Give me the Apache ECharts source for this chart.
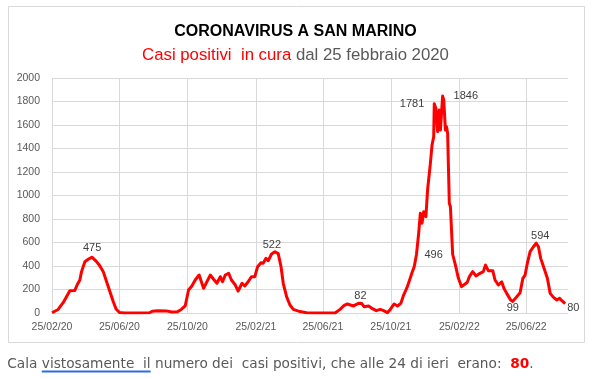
<!DOCTYPE html>
<html>
<head>
<meta charset="utf-8">
<script src="https://cdn.jsdelivr.net/npm/echarts@6/dist/echarts.min.js"></script>
<style>
  html, body { margin: 0; padding: 0; background: #fff; }
  #chart { width: 591px; height: 378px; }
</style>
</head>
<body>
<div id="chart"></div>
<script>
// dati: giorni dal 25/02/2020 e casi positivi in cura
var dayOffsets = [0, 3, 11, 20, 26, 32, 41, 45, 50, 53, 59, 65, 72, 80, 86, 92, 98, 104, 110, 115, 121, 130,
  175, 180, 190, 205, 215, 225, 232, 239, 245, 251, 257, 264, 272, 278, 284, 290, 296, 302, 306, 311, 317,
  322, 329, 334, 341, 346, 352, 358, 364, 369, 375, 379, 384, 388, 394, 400, 406, 411, 415, 421, 427, 433,
  445, 457, 466, 508, 517, 523, 530, 541, 550, 556, 560, 568, 574, 582, 589, 595, 602, 607, 614, 620, 626,
  631, 637, 641, 646, 650, 654, 658, 661, 664, 667, 671, 674, 679, 682, 685, 686, 689, 692, 695, 697, 701,
  703, 706, 708, 710, 713, 715, 719, 724, 729, 735, 738, 745, 749, 755, 761, 768, 774, 778, 783, 791, 795,
  801, 807, 811, 816, 823, 827, 833, 840, 845, 849, 853, 858, 864, 869, 873, 877, 883, 889, 894, 900, 906,
  911, 915, 921];
var positivi = [2, 10, 30, 88, 139, 190, 192, 238, 281, 352, 437, 457, 475, 437, 400, 352, 266, 181, 96, 34, 4, 0,
  2, 15, 20, 18, 8, 10, 30, 60, 196, 230, 281, 323, 210, 266, 323, 287, 253, 309, 266, 323, 338,
  281, 238, 187, 253, 230, 266, 309, 309, 394, 428, 423, 466, 445, 502, 522, 505, 394, 253, 139, 68, 31,
  12, 3, 0, 0, 31, 60, 77, 60, 82, 80, 54, 60, 40, 20, 31, 20, 3, 30, 77, 60, 82,
  153, 215, 270, 343, 394, 496, 678, 848, 763, 862, 820, 1047, 1274, 1430, 1501, 1781, 1740, 1543, 1728, 1557, 1846,
  1813, 1557, 1586, 1529, 934, 905, 500, 408, 300, 224, 210, 260, 309, 352, 315, 338, 352, 408, 360, 360, 281,
  238, 266, 210, 167, 111, 99, 133, 173, 295, 323, 423, 522, 564, 594, 564, 465, 380, 295, 167, 133, 111,
  125, 105, 80];
// etichette dei valori
var labelDays = [72, 400, 550, 654, 686, 701, 827, 869, 921];
var yTicks = [0, 2000, 200];
var nDays = 927;

// posizione delle etichette
var labelPos = {
  72:  { position: 'top', distance: 4 },
  400: { position: 'top', distance: 1, offset: [-3, 0] },
  550: { position: 'top', distance: 2, offset: [2, 0] },
  654: { position: 'right', distance: 8 },
  686: { position: 'left', distance: 10 },
  701: { position: 'right', distance: 11 },
  827: { position: 'bottom', distance: 1 },
  869: { position: 'top', distance: 2, offset: [4, 0] },
  921: { position: 'right', distance: 2, offset: [0, 4] }
};

function pad(n) { return (n < 10 ? '0' : '') + n; }
var start = Date.UTC(2020, 1, 25);
var categories = [];
for (var i = 0; i < nDays; i++) {
  var d = new Date(start + i * 86400000);
  categories.push(pad(d.getUTCDate()) + '/' + pad(d.getUTCMonth() + 1) + '/' + String(d.getUTCFullYear()).slice(2));
}
function isTick(index, value) {
  var m = value.slice(3, 5);
  return value.slice(0, 2) === '25' && (m === '02' || m === '06' || m === '10');
}

var seriesData = [];
for (var i = 0; i < nDays; i++) seriesData.push(null);
for (var k = 0; k < dayOffsets.length; k++) {
  var day = dayOffsets[k];
  if (labelDays.indexOf(day) >= 0) {
    var p = labelPos[day];
    seriesData[day] = {
      value: positivi[k],
      label: {
        show: true,
        position: p.position,
        distance: p.distance,
        offset: p.offset || [0, 0]
      }
    };
  } else {
    seriesData[day] = positivi[k];
  }
}

var font = 'Liberation Sans';
var chart = echarts.init(document.getElementById('chart'));

// misura del testo per la sottolineatura
var ctx = document.createElement('canvas').getContext('2d');
ctx.font = '13.7px "DejaVu Sans"';
var noteX = 7.3;
var uStart = noteX + ctx.measureText('Cala ').width;
var uEnd = noteX + ctx.measureText('Cala vistosamente  il').width;

chart.setOption({
  animation: false,
  title: [{
    text: 'CORONAVIRUS A SAN MARINO',
    left: 'center',
    top: 19,
    textStyle: { fontFamily: font, fontWeight: 'bold', fontSize: 16, color: '#000' }
  }, {
    text: '{r|Casi positivi  in cura}{g| dal 25 febbraio 2020}',
    left: 'center',
    top: 42,
    textStyle: {
      fontWeight: 'normal',
      rich: {
        r: { fontFamily: font, fontWeight: 'normal', fontSize: 16.8, color: '#ff0000' },
        g: { fontFamily: font, fontWeight: 'normal', fontSize: 16.8, color: '#595959' }
      }
    }
  }],
  grid: { left: 52, right: 23, top: 78, bottom: 65 },
  xAxis: {
    type: 'category',
    data: categories,
    boundaryGap: false,
    axisLine: { lineStyle: { color: '#d9d9d9' } },
    axisTick: { show: false },
    axisLabel: {
      interval: isTick,
      color: '#595959',
      fontFamily: font,
      fontSize: 10.5,
      margin: 9
    },
    splitLine: { show: true, interval: isTick, lineStyle: { color: '#d9d9d9' } }
  },
  yAxis: {
    type: 'value',
    min: yTicks[0],
    max: yTicks[1],
    interval: yTicks[2],
    axisLine: { show: false },
    axisTick: { show: false },
    axisLabel: {
      color: '#595959', fontFamily: font, fontSize: 10.5, margin: 12,
      formatter: function (v) { return String(v); }
    },
    splitLine: { lineStyle: { color: '#d9d9d9' } }
  },
  series: [{
    type: 'line',
    data: seriesData,
    connectNulls: true,
    symbol: 'circle',
    symbolSize: 0,
    showAllSymbol: true,
    lineStyle: { color: '#ff0000', width: 3, join: 'round' },
    itemStyle: { color: '#ff0000' },
    label: { color: '#404040', fontFamily: font, fontSize: 11 }
  }],
  graphic: [{
    type: 'rect',
    shape: { x: 8.5, y: 6.5, width: 576, height: 336 },
    style: { fill: 'none', stroke: '#d9d9d9', lineWidth: 1 },
    silent: true
  }, {
    type: 'text',
    x: noteX,
    y: 364,
    style: {
      text: '{g|Cala vistosamente  il numero dei  casi positivi, che alle 24 di ieri  erano:  }{r|80}{g|.}',
      verticalAlign: 'middle',
      rich: {
        g: { fontFamily: 'DejaVu Sans', fontSize: 13.7, fill: '#595959' },
        r: { fontFamily: 'DejaVu Sans', fontSize: 13.7, fontWeight: 'bold', fill: '#ff0000' }
      }
    }
  }, {
    type: 'line',
    shape: { x1: uStart, y1: 371.5, x2: uEnd, y2: 371.5 },
    style: { stroke: '#2b6be6', lineWidth: 2 }
  }]
});
</script>
</body>
</html>
